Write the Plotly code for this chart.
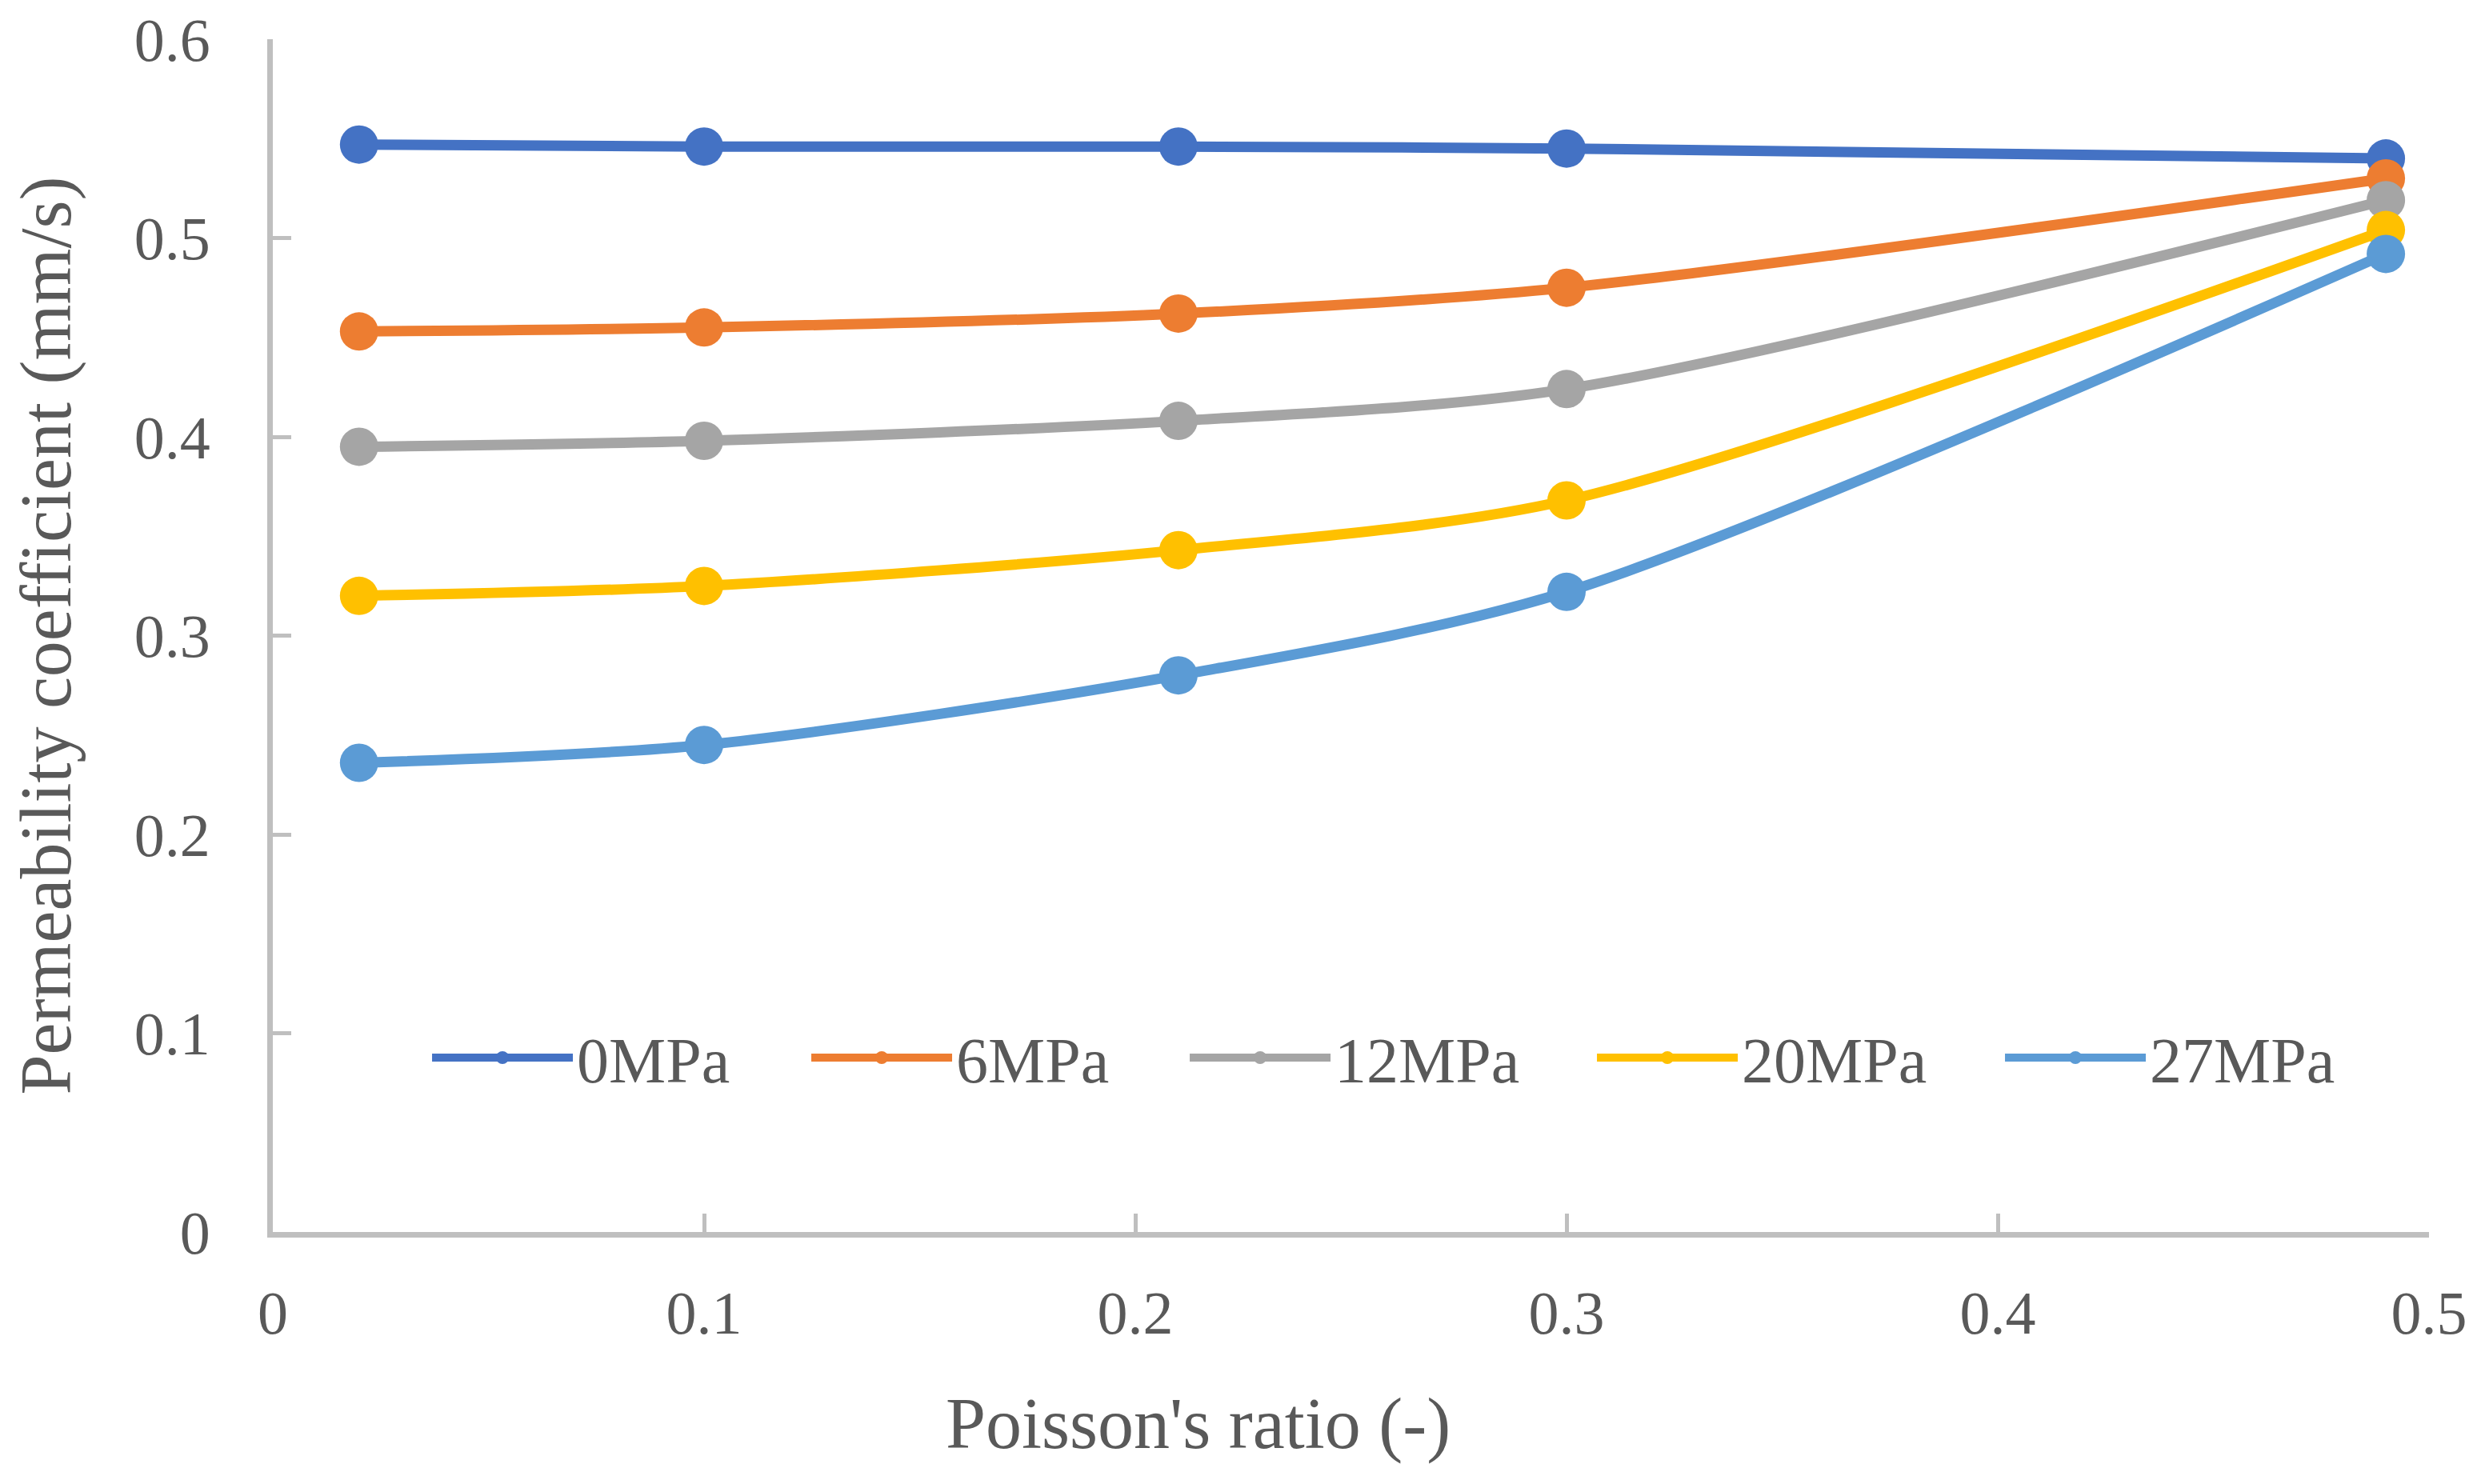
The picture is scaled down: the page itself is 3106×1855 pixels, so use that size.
import plotly.graph_objects as go

poisson = [0.02, 0.1, 0.21, 0.3, 0.49]
series_names = ["0MPa", "6MPa", "12MPa", "20MPa", "27MPa"]
k_0MPa = [0.547, 0.546, 0.546, 0.545, 0.540]
k_6MPa = [0.453, 0.455, 0.462, 0.475, 0.530]
k_12MPa = [0.395, 0.398, 0.408, 0.424, 0.519]
k_20MPa = [0.320, 0.325, 0.343, 0.368, 0.504]
k_27MPa = [0.236, 0.245, 0.280, 0.322, 0.492]
colors = ["#4472C4", "#ED7D31", "#A5A5A5", "#FFC000", "#5B9BD5"]
x_ticks = [0, 0.1, 0.2, 0.3, 0.4, 0.5]
x_tick_labels = ["0", "0.1", "0.2", "0.3", "0.4", "0.5"]
y_ticks = [0, 0.1, 0.2, 0.3, 0.4, 0.5, 0.6]
y_tick_labels = ["0", "0.1", "0.2", "0.3", "0.4", "0.5", "0.6"]

values = [k_0MPa, k_6MPa, k_12MPa, k_20MPa, k_27MPa]
legend_entry_widths = [283, 282, 318, 319, 235]

FONT = "Liberation Serif"
TXT = "#595959"
AX = "#BFBFBF"

fig = go.Figure()
for name, vals, col, lw in zip(series_names, values, colors, legend_entry_widths):
    fig.add_trace(go.Scatter(
        x=poisson, y=vals, name=name, mode="lines+markers",
        line=dict(color=col, width=13, shape="spline", smoothing=0.8),
        marker=dict(color=col, size=48),
        legendwidth=lw,
    ))

# page body adds an 8px offset; figure is sized to fit the window
fig.update_layout(
    width=3098, height=1847,
    paper_bgcolor="white", plot_bgcolor="white",
    margin=dict(l=333, r=70, t=41, b=315, autoexpand=False),
    font=dict(family=FONT, color=TXT, size=76),
    showlegend=True,
    legend=dict(
        orientation="h", x=0.072, y=0.1462, xanchor="left", yanchor="middle",
        font=dict(family=FONT, color=TXT, size=80),
        bgcolor="rgba(0,0,0,0)", itemwidth=176, itemsizing="trace",
        tracegroupgap=0,
    ),
    annotations=[dict(
        text="Poisson's ratio (-)", xref="paper", yref="paper",
        x=0.4293, y=-0.161, xanchor="center", yanchor="middle", showarrow=False,
        font=dict(family=FONT, color=TXT, size=90),
    )],
)
fig.update_xaxes(
    range=[0, 0.5], tickmode="array", tickvals=x_ticks, ticktext=x_tick_labels,
    showgrid=False, zeroline=False, showline=True, linecolor=AX, linewidth=7,
    ticks="inside", ticklen=23, tickwidth=5, tickcolor=AX,
    ticklabelstandoff=29, ticklabeloverflow="allow",
    tickfont=dict(family=FONT, color=TXT, size=76),
    automargin=False,
)
fig.update_yaxes(
    range=[0, 0.6], tickmode="array", tickvals=y_ticks, ticktext=y_tick_labels,
    showgrid=False, zeroline=False, showline=True, linecolor=AX, linewidth=7,
    ticks="inside", ticklen=23, tickwidth=5, tickcolor=AX,
    ticklabelstandoff=56, ticklabeloverflow="allow",
    tickfont=dict(family=FONT, color=TXT, size=76),
    title=dict(text="Permeability coefficient (mm/s)", font=dict(family=FONT, color=TXT, size=90), standoff=78),
    automargin=False,
)

fig.write_html("out.html")
